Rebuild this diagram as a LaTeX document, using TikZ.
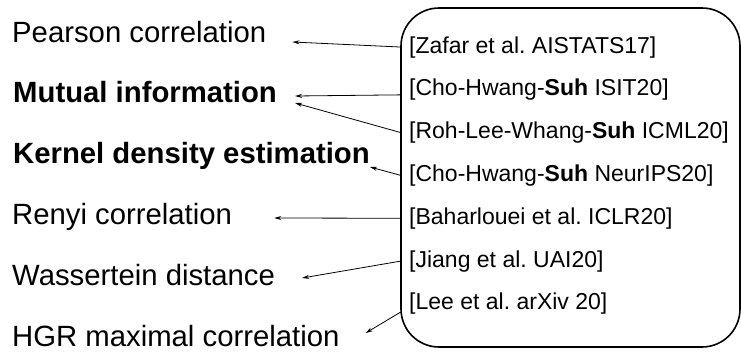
\documentclass[tikz,border=0pt]{standalone}
\usepackage{fontspec}
\setmainfont{Liberation Sans}
\usetikzlibrary{arrows.meta}
\frenchspacing
\begin{document}
\begin{tikzpicture}[x=1pt,y=-1pt,
        method/.style={anchor=base west,inner sep=0pt,font=\fontsize{29.3}{34}\selectfont},
        paper/.style={anchor=base west,inner xsep=8pt,inner ysep=2pt,font=\fontsize{23}{27}\selectfont},
        link/.style={line width=0.8pt,-{Stealth[length=7pt,width=4pt]}}]
                \useasboundingbox (0,0) rectangle (741,351);
                \draw[line width=1.6pt,rounded corners=38pt] (401,8) rectangle (740,347);
                \node[method] (pearson) at (12,42) {Pearson correlation};
                \node[method] (mutual) at (13,102) {\textbf{Mutual information}};
                \node[method] (kernel) at (13,163) {\textbf{Kernel density estimation}};
                \node[method] (renyi) at (12,224) {Renyi correlation};
                \node[method] (wasser) at (12,285) {Wassertein distance};
                \node[method] (hgr) at (12,346) {HGR maximal correlation};
                \node[paper] (zafar) at (401,53) {[Zafar et al. AISTATS17]};
                \node[paper] (isit) at (401,95.8) {[Cho-Hwang-\textbf{Suh} ISIT20]};
                \node[paper] (icml) at (401,138.6) {[Roh-Lee-Whang-\textbf{Suh} ICML20]};
                \node[paper] (neurips) at (401,181.4) {[Cho-Hwang-\textbf{Suh} NeurIPS20]};
                \node[paper] (iclr) at (401,224.2) {[Baharlouei et al. ICLR20]};
                \node[paper] (uai) at (401,267) {[Jiang et al. UAI20]};
                \node[paper] (arxiv) at (401,309.8) {[Lee et al. arXiv 20]};
                \draw[link] (zafar.west) -- ([xshift=26pt]pearson.base east);
                \draw[link] ([yshift=-5pt]isit.west) -- ([xshift=18pt,yshift=6pt]mutual.base east);
                \draw[link] (icml.west) -- ([xshift=18pt,yshift=-1pt]mutual.base east);
                \draw[link] (neurips.west) -- ([yshift=-4pt]kernel.base east);
                \draw[link] (iclr.west) -- ([xshift=42pt,yshift=6pt]renyi.base east);
                \draw[link] (uai.west) -- ([xshift=27pt,yshift=7pt]wasser.base east);
                \draw[link] ([yshift=-8pt]arxiv.west) -- ([xshift=26pt,yshift=13pt]hgr.base east);
            \end{tikzpicture}
\end{document}
